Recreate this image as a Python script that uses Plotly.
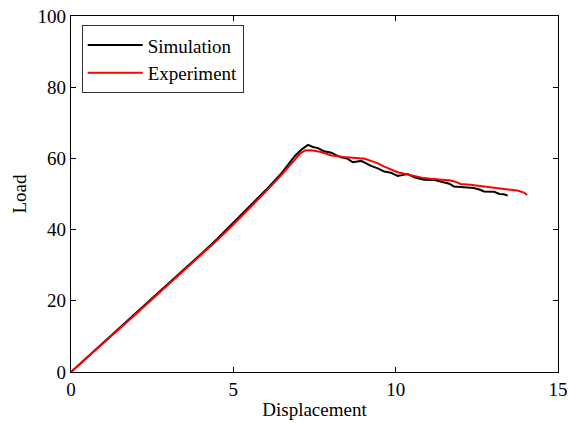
import plotly.graph_objects as go

sim_x = [0, 0.5, 1.0, 1.5, 2.0, 2.5, 3.0, 3.5, 4.0, 4.5, 5.0, 5.5, 6.0, 6.5, 6.89, 7.1, 7.3, 7.45, 7.61, 7.8, 8.02, 8.15, 8.32, 8.5, 8.68, 8.94, 9.1, 9.24, 9.45, 9.65, 9.85, 10.06, 10.2, 10.37, 10.6, 10.88, 11.2, 11.49, 11.65, 11.8, 12.1, 12.41, 12.6, 12.72, 13.03, 13.2, 13.33, 13.45]
sim_y = [0, 4.2, 8.4, 12.5, 16.6, 20.7, 24.8, 28.9, 33.1, 37.4, 41.9, 46.4, 51.1, 56.0, 60.6, 62.5, 63.8, 63.2, 62.9, 62.0, 61.6, 61.0, 60.3, 60.0, 58.9, 59.3, 58.5, 57.9, 57.2, 56.3, 56.0, 55.1, 55.3, 55.6, 54.6, 54.0, 53.9, 53.3, 52.9, 52.1, 52.0, 51.7, 51.2, 50.7, 50.6, 50.0, 49.9, 49.6]

exp_x = [0, 0.5, 1.0, 1.5, 2.0, 2.5, 3.0, 3.5, 4.0, 4.5, 5.0, 5.5, 6.0, 6.5, 6.89, 7.05, 7.2, 7.4, 7.7, 8.02, 8.4, 8.83, 9.05, 9.24, 9.45, 9.65, 9.85, 10.06, 10.3, 10.57, 10.8, 11.08, 11.4, 11.7, 11.85, 12.0, 12.3, 12.62, 13.0, 13.3, 13.54, 13.75, 13.95, 14.05]
exp_y = [0, 4.0, 8.1, 12.2, 16.3, 20.4, 24.5, 28.6, 32.7, 37.0, 41.4, 46.0, 50.7, 55.5, 59.8, 61.3, 62.2, 62.3, 61.8, 60.8, 60.4, 60.2, 59.9, 59.3, 58.6, 57.7, 56.9, 56.1, 55.6, 55.0, 54.6, 54.3, 54.0, 53.8, 53.4, 52.8, 52.6, 52.2, 51.8, 51.4, 51.2, 51.0, 50.4, 49.7]

x_ticks = [0, 5, 10, 15]
y_ticks = [0, 20, 40, 60, 80, 100]

font = dict(family="Times New Roman, Liberation Serif, serif", size=19, color="black")

fig = go.Figure()
fig.add_trace(go.Scatter(x=sim_x, y=sim_y, mode="lines", name="Simulation",
                         line=dict(color="black", width=2)))
fig.add_trace(go.Scatter(x=exp_x, y=exp_y, mode="lines", name="Experiment",
                         line=dict(color="red", width=2)))

axis_common = dict(showline=True, linecolor="black", linewidth=1.3, mirror="ticks",
                   ticks="inside", ticklen=5, tickwidth=1, tickcolor="black",
                   showgrid=False, zeroline=False, tickfont=font,
                   ticklabeloverflow="allow", automargin=False)

fig.update_layout(
    width=569, height=423,
    margin=dict(l=71, r=11, t=16, b=51),
    plot_bgcolor="white", paper_bgcolor="white",
    font=font,
    xaxis=dict(range=[0, 15], tickvals=x_ticks,
               title=dict(text="Displacement", font=font, standoff=3), **axis_common),
    yaxis=dict(range=[0, 100], tickvals=y_ticks,
               title=dict(text="Load", font=font, standoff=5), **axis_common),
    legend=dict(x=0.022, y=0.974, xanchor="left", yanchor="top",
                bgcolor="white", bordercolor="#333", borderwidth=1,
                font=font, tracegroupgap=0, itemwidth=55,
                entrywidth=160, entrywidthmode="pixels"),
    showlegend=True,
)

fig.write_html("out.html")
